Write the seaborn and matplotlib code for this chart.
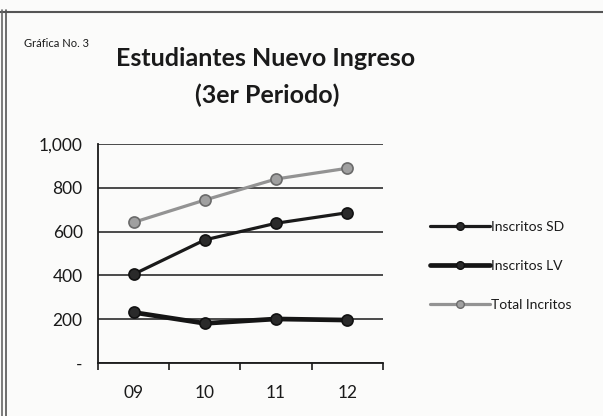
import numpy as np
import pandas as pd
import seaborn as sns
import matplotlib.pyplot as plt
from matplotlib.lines import Line2D
from matplotlib.ticker import FuncFormatter

# values
periodos = ['09', '10', '11', '12']
inscritos_sd = [405, 562, 638, 686]
inscritos_lv = [231, 181, 201, 196]
total_incritos = [642, 744, 840, 889]
series_names = ['Inscritos SD', 'Inscritos LV', 'Total Incritos']

df = pd.DataFrame({
    'pos': list(range(len(periodos))) * 3,
    'valor': inscritos_sd + inscritos_lv + total_incritos,
    'serie': np.repeat(series_names, len(periodos)),
})

sns.set_theme(style='white')
plt.rcParams['font.family'] = ['Lato', 'DejaVu Sans']

fig = plt.figure(figsize=(6.03, 4.16), dpi=100)
fig.patch.set_facecolor('#fbfbfa')
ax = fig.add_axes([0.1625, 0.1274, 0.4726, 0.5266])
ax.set_facecolor('#fbfbfa')

styles = {
    'Inscritos SD': dict(color='#1a1a1a', lw=2.3, mfc='#2a2a2a', mec='#111111'),
    'Inscritos LV': dict(color='#151515', lw=3.4, mfc='#2a2a2a', mec='#111111'),
    'Total Incritos': dict(color='#939393', lw=2.3, mfc='#a0a0a0', mec='#6a6a6a'),
}
for name in series_names:
    st = styles[name]
    sns.lineplot(data=df[df['serie'] == name], x='pos', y='valor', ax=ax,
                 color=st['color'], linewidth=st['lw'], marker='o',
                 markersize=8, markerfacecolor=st['mfc'],
                 markeredgecolor=st['mec'], markeredgewidth=1.2,
                 label=name, zorder=3)

ax.set_xlim(-0.5, len(periodos) - 0.5)
ax.set_ylim(0, 1000)
ax.set_yticks(range(0, 1001, 200))
ax.yaxis.set_major_formatter(FuncFormatter(lambda v, p: '-' if v == 0 else f'{int(v):,}'))
ax.set_xticks(range(len(periodos)))
ax.set_xticklabels(periodos)
ax.set_xticks(np.arange(-0.5, len(periodos)), minor=True)
ax.tick_params(axis='x', which='major', length=0, pad=16, labelsize=12.5, colors='#1a1a1a')
ax.tick_params(axis='x', which='minor', length=5, width=1.2, direction='out', color='#1a1a1a', bottom=True)
ax.tick_params(axis='y', length=0, pad=11, labelsize=12.5, colors='#1a1a1a')
ax.set_xlabel('')
ax.set_ylabel('')
ax.yaxis.grid(True, color='#1a1a1a', linewidth=1.1)
ax.set_axisbelow(True)
for s in ['top', 'right']:
    ax.spines[s].set_visible(False)
for s in ['left', 'bottom']:
    ax.spines[s].set_color('#1a1a1a')
    ax.spines[s].set_linewidth(1.3)

ax.get_legend().remove()
handles = [Line2D([], [], color=styles[n]['color'], lw=styles[n]['lw'], marker='o',
                  markersize=5.5, markerfacecolor=styles[n]['mfc'],
                  markeredgecolor=styles[n]['mec']) for n in series_names]
fig.legend(handles, series_names, loc='center left', bbox_to_anchor=(0.693, 0.361),
           frameon=False, fontsize=10, labelspacing=1.95, handlelength=4.3,
           handletextpad=0.1, labelcolor='#1a1a1a')

fig.text(0.441, 0.86, 'Estudiantes Nuevo Ingreso', ha='center', va='center',
         fontsize=18, fontweight='bold', color='#1a1a1a')
fig.text(0.443, 0.772, '(3er Periodo)', ha='center', va='center',
         fontsize=18, fontweight='bold', color='#1a1a1a')
fig.text(0.04, 0.895, 'Gráfica No. 3', ha='left', va='center',
         fontsize=8, color='#1a1a1a')

# scanned frame: top rule and double rule on the left
fig.add_artist(Line2D([0.0, 1.0], [0.971, 0.971], transform=fig.transFigure, color='#555555', lw=1.5))
fig.add_artist(Line2D([0.004, 0.004], [0.0, 0.975], transform=fig.transFigure, color='#666666', lw=1.2))
fig.add_artist(Line2D([0.0105, 0.0105], [0.0, 0.975], transform=fig.transFigure, color='#555555', lw=1.2))

fig.savefig('out.png', dpi=100, facecolor=fig.get_facecolor())
